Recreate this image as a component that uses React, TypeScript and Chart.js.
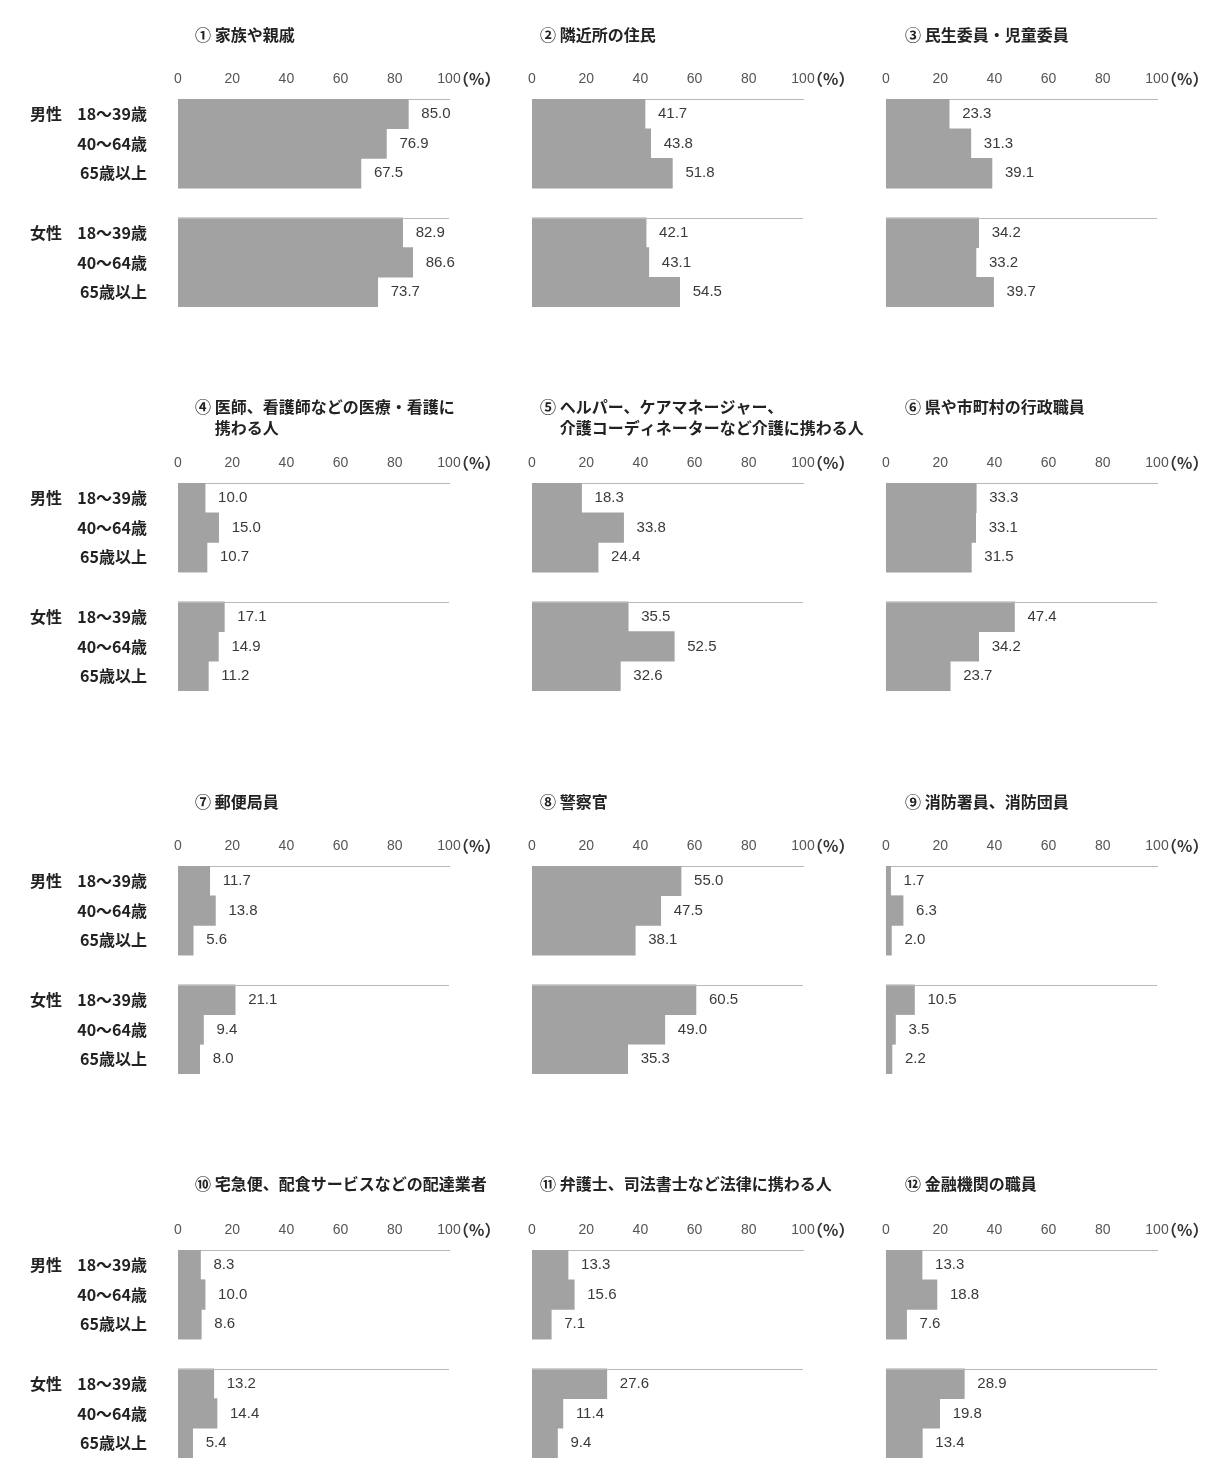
import React, { useEffect, useRef } from 'react';
import { Chart, registerables } from 'chart.js';

Chart.register(...registerables);

// ---- data ----
const panelTitles: string[][] = [
  ['① 家族や親戚'],
  ['② 隣近所の住民'],
  ['③ 民生委員・児童委員'],
  ['④ 医師、看護師などの医療・看護に', '携わる人'],
  ['⑤ ヘルパー、ケアマネージャー、', '介護コーディネーターなど介護に携わる人'],
  ['⑥ 県や市町村の行政職員'],
  ['⑦ 郵便局員'],
  ['⑧ 警察官'],
  ['⑨ 消防署員、消防団員'],
  ['⑩ 宅急便、配食サービスなどの配達業者'],
  ['⑪ 弁護士、司法書士など法律に携わる人'],
  ['⑫ 金融機関の職員'],
];
const genderLabels = ['男性', '女性'];
const ageLabels = ['18～39歳', '40～64歳', '65歳以上'];
const axisTicks = [0, 20, 40, 60, 80, 100];
const unitLabel = '（%）';

const male18to39 = [85.0, 41.7, 23.3, 10.0, 18.3, 33.3, 11.7, 55.0, 1.7, 8.3, 13.3, 13.3];
const male40to64 = [76.9, 43.8, 31.3, 15.0, 33.8, 33.1, 13.8, 47.5, 6.3, 10.0, 15.6, 18.8];
const male65plus = [67.5, 51.8, 39.1, 10.7, 24.4, 31.5, 5.6, 38.1, 2.0, 8.6, 7.1, 7.6];
const female18to39 = [82.9, 42.1, 34.2, 17.1, 35.5, 47.4, 21.1, 60.5, 10.5, 13.2, 27.6, 28.9];
const female40to64 = [86.6, 43.1, 33.2, 14.9, 52.5, 34.2, 9.4, 49.0, 3.5, 14.4, 11.4, 19.8];
const female65plus = [73.7, 54.5, 39.7, 11.2, 32.6, 23.7, 8.0, 35.3, 2.2, 5.4, 9.4, 13.4];

// ---- layout / style ----
const COL_ZERO = [178, 532, 886];
const PLOT_W = 271;
const ROW_AXIS_Y = [79, 463, 846, 1230];
const ROW_TITLE_UP = [44, 56, 44, 46];
const TITLE_DX = [17, 8, 19];
const RIGHT_PAD = 64;
const BAR_COLOR = '#a2a2a2';
const JP = "'Noto Sans CJK JP', 'Noto Sans', sans-serif";
const NUM = "'Liberation Sans Narrow', 'Liberation Sans', Arial, sans-serif";

function Panel({ index }: { index: number }) {
  const ref = useRef<HTMLCanvasElement>(null);
  const col = index % 3;
  const row = Math.floor(index / 3);
  const first = col === 0;
  const leftPad = first ? COL_ZERO[0] : 20;
  const canvasLeft = COL_ZERO[col] - leftPad;
  const width = leftPad + PLOT_W + RIGHT_PAD;
  const height = 300;
  const top = ROW_AXIS_Y[row] - 70;

  useEffect(() => {
    const values: (number | null)[] = [
      male18to39[index], male40to64[index], male65plus[index], null,
      female18to39[index], female40to64[index], female65plus[index],
    ];
    const labels = [...ageLabels, '', ...ageLabels];
    const titleLines = panelTitles[index];

    const decor = {
      id: 'panelDecor',
      afterDraw(chart: any) {
        const { ctx, chartArea } = chart;
        const xs = chart.scales.x;
        const ys = chart.scales.y;
        ctx.save();
        // female group top line
        const yLine = Math.round((ys.getPixelForValue(3) + ys.getPixelForValue(4)) / 2) + 0.5;
        ctx.strokeStyle = '#b8b8b8';
        ctx.lineWidth = 1;
        ctx.beginPath();
        ctx.moveTo(xs.getPixelForValue(0), yLine);
        ctx.lineTo(xs.getPixelForValue(100), yLine);
        ctx.stroke();
        // value labels
        ctx.fillStyle = '#3a3a3a';
        ctx.font = `15px ${NUM}`;
        ctx.textBaseline = 'middle';
        ctx.textAlign = 'left';
        const meta = chart.getDatasetMeta(0);
        meta.data.forEach((bar: any, i: number) => {
          const v = values[i];
          if (v == null) return;
          ctx.fillText(v.toFixed(1), bar.x + 13, bar.y);
        });
        // unit
        const axisY = chartArea.top - 20;
        ctx.fillStyle = '#333';
        ctx.font = `bold 16px ${JP}`;
        ctx.fillText(unitLabel, xs.getPixelForValue(100) + 4, axisY);
        // title
        ctx.fillStyle = '#222';
        ctx.font = `bold 16px ${JP}`;
        const tx = chartArea.left + TITLE_DX[col];
        const up = ROW_TITLE_UP[row];
        if (titleLines.length === 1) {
          ctx.fillText(titleLines[0], tx, axisY - up);
        } else {
          const indent = ctx.measureText(titleLines[0].slice(0, 2)).width;
          ctx.fillText(titleLines[0], tx, axisY - up);
          ctx.fillText(titleLines[1], tx + indent, axisY - up + 21);
        }
        // gender labels
        if (first) {
          ctx.font = `bold 16px ${JP}`;
          ctx.fillStyle = '#222';
          ctx.fillText(genderLabels[0], 30, ys.getPixelForValue(0));
          ctx.fillText(genderLabels[1], 30, ys.getPixelForValue(4));
        }
        ctx.restore();
      },
    };

    const chart = new Chart(ref.current as HTMLCanvasElement, {
      type: 'bar',
      data: {
        labels,
        datasets: [
          {
            data: values,
            backgroundColor: BAR_COLOR,
            borderWidth: 0,
            barPercentage: 1,
            categoryPercentage: 1,
          },
        ],
      },
      options: {
        indexAxis: 'y',
        responsive: false,
        animation: false,
        devicePixelRatio: 1,
        layout: { padding: { left: first ? 0 : leftPad, right: RIGHT_PAD, top: 0, bottom: 2 } },
        plugins: { legend: { display: false }, tooltip: { enabled: false }, title: { display: false } },
        scales: {
          x: {
            position: 'top',
            min: 0,
            max: 100,
            afterBuildTicks: (s: any) => {
              s.ticks = axisTicks.map((v) => ({ value: v }));
            },
            afterFit: (s: any) => {
              s.height = 90;
              s.paddingLeft = 0;
              s.paddingRight = 0;
            },
            ticks: { padding: 11, color: '#555', font: { family: NUM, size: 14 }, maxRotation: 0, autoSkip: false },
            grid: { display: false, drawTicks: false },
            border: { display: true, color: '#b8b8b8', width: 1 },
          },
          y: {
            type: 'category',
            display: first,
            afterFit: (s: any) => {
              if (first) s.width = COL_ZERO[0];
              s.paddingTop = 0;
              s.paddingBottom = 0;
            },
            ticks: { padding: 31, color: '#222', font: { family: JP, size: 16, weight: 'bold' }, autoSkip: false },
            grid: { display: false, drawTicks: false },
            border: { display: false },
          },
        },
      } as any,
      plugins: [decor],
    });
    return () => chart.destroy();
  }, [index]);

  return (
    <canvas
      ref={ref}
      width={width}
      height={height}
      style={{ position: 'absolute', left: canvasLeft, top, width, height }}
    />
  );
}

export default function App() {
  return (
    <div
      style={{
        position: 'absolute',
        left: 0,
        top: 0,
        width: 1227,
        height: 1468,
        background: '#ffffff',
        overflow: 'hidden',
      }}
    >
      {panelTitles.map((_, i) => (
        <Panel key={i} index={i} />
      ))}
    </div>
  );
}
